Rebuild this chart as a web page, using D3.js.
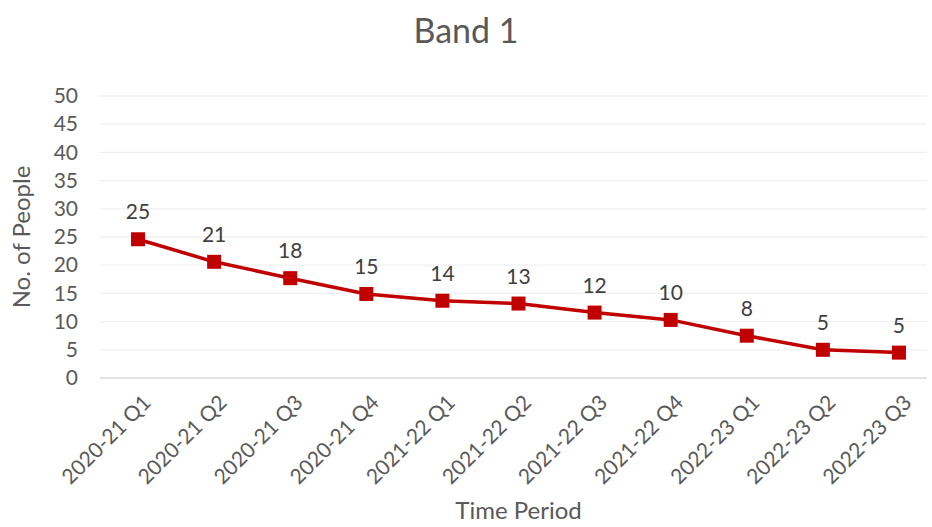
<!DOCTYPE html>
<html>
<head>
<meta charset="utf-8">
<script src="https://cdn.jsdelivr.net/npm/d3@7"></script>
<style>
  body { margin: 0; background: #fff; }
  svg text { font-family: Lato, "Open Sans", sans-serif; }
</style>
</head>
<body>
<div id="chart"></div>
<script>
// Band 1 - no. of people per quarter
const periods = ["2020-21 Q1", "2020-21 Q2", "2020-21 Q3", "2020-21 Q4",
  "2021-22 Q1", "2021-22 Q2", "2021-22 Q3", "2021-22 Q4",
  "2022-23 Q1", "2022-23 Q2", "2022-23 Q3"];
const people = [24.6, 20.6, 17.7, 14.9, 13.7, 13.2, 11.6, 10.3, 7.5, 5.0, 4.5];
const peopleLabels = ["25", "21", "18", "15", "14", "13", "12", "10", "8", "5", "5"];
const yTicks = [0, 5, 10, 15, 20, 25, 30, 35, 40, 45, 50];

const W = 932, H = 527;
let margin = {top: 96, right: -5, bottom: 149, left: 100};

const svg = d3.select("#chart")
  .append("svg")
    .attr("width", W)
    .attr("height", H);

const x = d3.scaleBand()
  .domain(periods)
  .range([margin.left, W - margin.right]);

const y = d3.scaleLinear()
  .domain([0, 50])
  .range([H - margin.bottom, margin.top]);

// gridlines
svg.append("g")
  .selectAll("line")
  .data(yTicks)
  .enter()
  .append("line")
    .attr("x1", margin.left)
    .attr("x2", 927)
    .attr("y1", d => y(d))
    .attr("y2", d => y(d))
    .attr("stroke", d => d === 0 ? "#d9d9d9" : "#efefef")
    .attr("stroke-width", 1.3);

// y axis labels
const yAxis = svg.append("g")
  .attr("transform", "translate(" + (margin.left - 22) + ",0)")
  .call(d3.axisLeft(y).tickValues(yTicks).tickSize(0).tickPadding(0));
yAxis.select(".domain").remove();
yAxis.selectAll("text")
  .attr("fill", "#595959")
  .style("font-size", "21px");

// x axis labels
const xAxis = svg.append("g")
  .attr("transform", "translate(0," + (H - margin.bottom) + ")")
  .call(d3.axisBottom(x).tickSize(0).tickPadding(0));
xAxis.select(".domain").remove();
xAxis.selectAll("text")
  .attr("fill", "#595959")
  .style("font-size", "21px")
  .style("text-anchor", "end")
  .attr("dy", 0)
  .attr("transform", "translate(14,26)rotate(-45)");

// line
const line = d3.line()
  .x((d, i) => x(periods[i]) + x.bandwidth() / 2)
  .y(d => y(d));

svg.append("path")
  .datum(people)
  .attr("d", line)
  .attr("fill", "none")
  .attr("stroke", "#c00000")
  .attr("stroke-width", 3.5)
  .attr("stroke-linejoin", "round");

// markers
svg.selectAll("rect.marker")
  .data(people)
  .enter()
  .append("rect")
    .attr("class", "marker")
    .attr("x", (d, i) => x(periods[i]) + x.bandwidth() / 2 - 7)
    .attr("y", d => y(d) - 7)
    .attr("width", 14)
    .attr("height", 14)
    .attr("fill", "#c00000");

// data labels
svg.selectAll("text.label")
  .data(people)
  .enter()
  .append("text")
    .attr("class", "label")
    .attr("x", (d, i) => x(periods[i]) + x.bandwidth() / 2)
    .attr("y", d => y(d) - 20)
    .attr("text-anchor", "middle")
    .attr("fill", "#404040")
    .style("font-size", "21px")
    .text((d, i) => peopleLabels[i]);

// title
svg.append("text")
  .attr("x", W / 2)
  .attr("y", 43)
  .attr("text-anchor", "middle")
  .attr("fill", "#595959")
  .style("font-size", "34px")
  .text("Band 1");

// axis titles
svg.append("text")
  .attr("x", (margin.left + W - margin.right) / 2)
  .attr("y", 519)
  .attr("text-anchor", "middle")
  .attr("fill", "#595959")
  .style("font-size", "24px")
  .text("Time Period");

svg.append("text")
  .attr("transform", "translate(30," + ((y(0) + y(50)) / 2) + ")rotate(-90)")
  .attr("text-anchor", "middle")
  .attr("fill", "#595959")
  .style("font-size", "24px")
  .text("No. of People");
</script>
</body>
</html>
